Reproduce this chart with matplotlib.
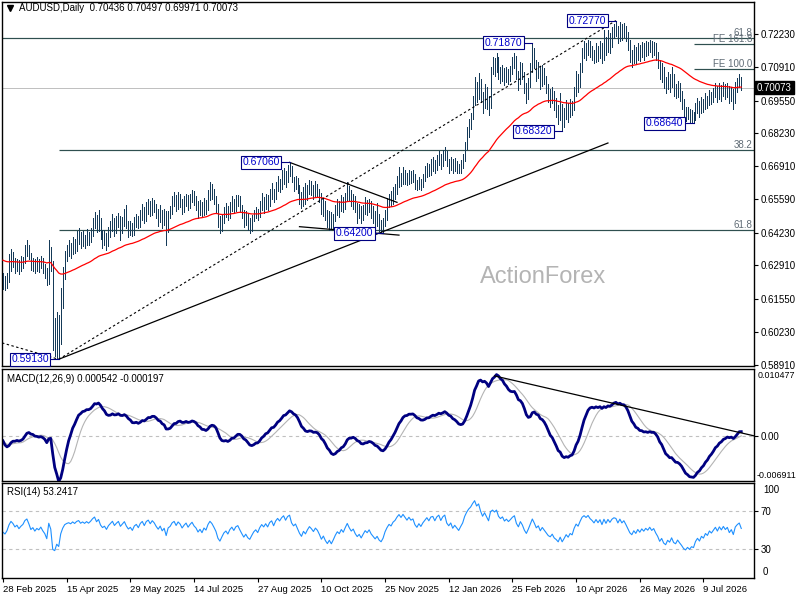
import numpy as np
import matplotlib
matplotlib.use("Agg")
import matplotlib.pyplot as plt

plt.rcParams['font.family'] = ['Liberation Sans', 'DejaVu Sans']

title_text = "AUDUSD,Daily  0.70436 0.70497 0.69971 0.70073"
macd_text = "MACD(12,26,9) 0.000542 -0.000197"
rsi_text = "RSI(14) 53.2417"
watermark = "ActionForex"

# daily bars, prices in pips (x 0.0001)
first_open = 6245
closes = [
    6230, 6215, 6240, 6290, 6325, 6310, 6285, 6300, 6275, 6295,
    6310, 6345, 6360, 6330, 6290, 6305, 6280, 6300, 6290, 6310,
    6285, 6265, 6225, 6350, 6300, 5990, 5960, 6030, 5980, 6150,
    6250, 6320, 6345, 6360, 6345, 6380, 6360, 6395, 6410, 6380,
    6400, 6385, 6410, 6395, 6420, 6455, 6480, 6440, 6470, 6420,
    6395, 6410, 6380, 6420, 6445, 6470, 6435, 6460, 6480, 6440,
    6465, 6490, 6455, 6430, 6445, 6420, 6460, 6475, 6450, 6490,
    6510, 6480, 6520, 6535, 6510, 6540, 6525, 6500, 6480, 6505,
    6470, 6490, 6430, 6495, 6510, 6545, 6560, 6530, 6565, 6550,
    6520, 6545, 6565, 6535, 6560, 6580, 6555, 6540, 6510, 6530,
    6505, 6540, 6525, 6570, 6600, 6585, 6560, 6530, 6470, 6440,
    6470, 6500, 6515, 6490, 6525, 6545, 6520, 6550, 6560, 6530,
    6500, 6470, 6490, 6460, 6445, 6470, 6495, 6510, 6490, 6525,
    6550, 6535, 6560, 6540, 6575, 6590, 6560, 6600, 6625, 6610,
    6640, 6660, 6635, 6670, 6685, 6640, 6620, 6635, 6605, 6570,
    6545, 6580, 6560, 6590, 6615, 6600, 6580, 6605, 6590, 6560,
    6520, 6540, 6500, 6470, 6490, 6455, 6480, 6510, 6535, 6520,
    6550, 6530, 6565, 6600, 6570, 6545, 6560, 6525, 6500, 6515,
    6485, 6510, 6535, 6520, 6540, 6510, 6490, 6470, 6485, 6455,
    6440, 6460, 6500, 6530, 6555, 6545, 6575, 6590, 6620, 6645,
    6630, 6660, 6645, 6630, 6655, 6640, 6650, 6620, 6605, 6630,
    6615, 6640, 6660, 6680, 6665, 6695, 6700, 6680, 6710, 6725,
    6700, 6730, 6745, 6705, 6690, 6710, 6680, 6700, 6685, 6670,
    6695, 6720, 6775, 6820, 6860, 6890, 6950, 7010, 6980, 7020,
    6975, 6940, 6990, 6960, 6930, 7070, 7100, 7085, 7120, 7070,
    7050, 7075, 7040, 7065, 7045, 7070, 7100, 7120, 7060, 7030,
    7090, 7060, 7010, 6975, 7020, 7080, 7150, 7110, 7060, 7085,
    7030, 7070, 7040, 7010, 6975, 6960, 6985, 6940, 6920, 6890,
    6930, 6870, 6900, 6935, 6905, 6940, 6925, 6990, 7040, 7020,
    7080, 7140, 7165, 7150, 7180, 7155, 7140, 7120, 7160, 7135,
    7170, 7130, 7195, 7160, 7210, 7185, 7225, 7245, 7240, 7205,
    7250, 7220, 7245, 7215, 7180, 7140, 7120, 7155, 7130, 7165,
    7140, 7170, 7150, 7175, 7160, 7185, 7160, 7175, 7140, 7110,
    7060, 7080, 7030, 7010, 7040, 7020, 7050, 7000, 6985, 7010,
    6980, 6950, 6910, 6890, 6905, 6880, 6895, 6885, 6920, 6940,
    6915, 6945, 6930, 6960, 6945, 6975, 6960, 6980, 7000, 6975,
    7005, 6985, 7010, 6990, 7005, 6970, 6990, 6955, 7010, 7030,
    7043.6, 7007.3,
]
highs = [
    6262, 6248, 6262, 6335, 6358, 6345, 6322, 6318, 6312, 6330,
    6325, 6375, 6393, 6372, 6340, 6322, 6318, 6325, 6315, 6330,
    6320, 6298, 6280, 6393, 6365, 6310, 6080, 6105, 6090, 6200,
    6285, 6350, 6372, 6395, 6380, 6405, 6398, 6430, 6440, 6425,
    6430, 6415, 6438, 6425, 6442, 6480, 6505, 6495, 6514, 6480,
    6435, 6432, 6420, 6445, 6470, 6498, 6482, 6488, 6502, 6490,
    6485, 6520, 6535, 6468, 6470, 6460, 6485, 6500, 6490, 6515,
    6540, 6525, 6547, 6560, 6550, 6563, 6555, 6540, 6520, 6535,
    6515, 6520, 6510, 6510, 6530, 6570, 6587, 6575, 6585, 6580,
    6560, 6570, 6580, 6575, 6580, 6595, 6590, 6570, 6550, 6555,
    6545, 6563, 6555, 6595, 6627, 6620, 6600, 6570, 6540, 6490,
    6495, 6525, 6543, 6530, 6545, 6570, 6560, 6575, 6575, 6570,
    6534, 6515, 6510, 6500, 6480, 6495, 6515, 6525, 6520, 6550,
    6583, 6565, 6580, 6575, 6600, 6623, 6600, 6625, 6650, 6640,
    6675, 6685, 6670, 6695, 6706, 6690, 6647, 6650, 6645, 6615,
    6585, 6605, 6623, 6615, 6635, 6630, 6615, 6630, 6620, 6600,
    6583, 6560, 6550, 6515, 6510, 6505, 6500, 6534, 6560, 6550,
    6575, 6565, 6583, 6627, 6610, 6595, 6580, 6570, 6543, 6540,
    6530, 6535, 6567, 6555, 6560, 6550, 6530, 6510, 6543, 6500,
    6475, 6480, 6514, 6563, 6580, 6590, 6607, 6620, 6650, 6687,
    6665, 6687, 6675, 6665, 6675, 6670, 6675, 6660, 6635, 6647,
    6640, 6660, 6690, 6705, 6700, 6720, 6727, 6715, 6735, 6750,
    6740, 6755, 6768, 6750, 6720, 6727, 6718, 6722, 6712, 6700,
    6715, 6740, 6790, 6848, 6880, 6905, 6975, 7050, 7030, 7066,
    7040, 6990, 7020, 7010, 6975, 7090, 7130, 7125, 7147, 7130,
    7090, 7098, 7085, 7090, 7080, 7095, 7130, 7147, 7135, 7075,
    7110, 7105, 7070, 7025, 7045, 7105, 7187, 7165, 7118, 7110,
    7095, 7100, 7085, 7055, 7020, 7000, 7010, 6995, 6965, 6935,
    6985, 6940, 6925, 6957, 6945, 6960, 6955, 7010, 7075, 7060,
    7106, 7165, 7195, 7185, 7200, 7195, 7175, 7160, 7187, 7175,
    7195, 7185, 7240, 7210, 7240, 7225, 7250, 7265, 7277, 7255,
    7270, 7262, 7268, 7255, 7230, 7199, 7160, 7180, 7170, 7187,
    7180, 7190, 7185, 7195, 7190, 7200, 7195, 7192, 7185, 7150,
    7120, 7105, 7090, 7050, 7070, 7060, 7090, 7060, 7020, 7035,
    7025, 6995, 6960, 6930, 6929, 6920, 6915, 6910, 6945, 6965,
    6955, 6970, 6960, 6985, 6975, 6998, 6990, 7005, 7026, 7015,
    7025, 7018, 7030, 7020, 7025, 7015, 7010, 7000, 7030, 7045,
    7060, 7049.7,
]
lows = [
    6195, 6190, 6200, 6225, 6270, 6285, 6262, 6270, 6255, 6268,
    6280, 6300, 6330, 6315, 6272, 6268, 6262, 6270, 6265, 6280,
    6262, 6240, 6212, 6218, 6270, 5950, 5925, 5920, 5913, 5975,
    6120, 6235, 6310, 6328, 6320, 6335, 6340, 6350, 6378, 6362,
    6368, 6360, 6375, 6372, 6385, 6408, 6440, 6425, 6430, 6398,
    6360, 6375, 6353, 6370, 6405, 6430, 6410, 6420, 6445, 6395,
    6420, 6450, 6442, 6406, 6415, 6410, 6412, 6445, 6440, 6445,
    6475, 6460, 6470, 6500, 6490, 6495, 6505, 6480, 6450, 6465,
    6442, 6455, 6373, 6425, 6480, 6500, 6530, 6510, 6520, 6525,
    6500, 6505, 6530, 6515, 6522, 6545, 6535, 6515, 6482, 6495,
    6485, 6495, 6500, 6515, 6555, 6560, 6540, 6505, 6445, 6422,
    6430, 6460, 6485, 6475, 6480, 6510, 6502, 6512, 6530, 6505,
    6480, 6445, 6455, 6434, 6420, 6430, 6474, 6480, 6475, 6485,
    6515, 6502, 6520, 6514, 6530, 6560, 6545, 6567, 6590, 6585,
    6600, 6620, 6607, 6625, 6650, 6625, 6590, 6600, 6583, 6540,
    6522, 6530, 6540, 6555, 6580, 6575, 6560, 6570, 6565, 6545,
    6500, 6490, 6474, 6445, 6434, 6440, 6442, 6470, 6495, 6486,
    6510, 6505, 6520, 6555, 6550, 6530, 6520, 6506, 6462, 6480,
    6462, 6475, 6500, 6494, 6505, 6480, 6460, 6446, 6450, 6430,
    6426, 6420, 6450, 6474, 6527, 6530, 6540, 6560, 6580, 6607,
    6610, 6620, 6620, 6615, 6620, 6622, 6625, 6600, 6595, 6598,
    6595, 6605, 6630, 6647, 6650, 6655, 6670, 6665, 6675, 6695,
    6680, 6690, 6715, 6690, 6665, 6675, 6663, 6670, 6665, 6663,
    6665, 6685, 6710, 6760, 6810, 6840, 6880, 6935, 6950, 6960,
    6950, 6905, 6925, 6920, 6897, 6925, 7060, 7055, 7070, 7040,
    7025, 7035, 7018, 7030, 7020, 7035, 7060, 7085, 7040, 6998,
    7020, 7040, 6985, 6945, 6960, 7010, 7070, 7085, 7035, 7045,
    7000, 7015, 7020, 6985, 6950, 6930, 6945, 6917, 6890, 6860,
    6875, 6832, 6850, 6880, 6868, 6890, 6895, 6915, 6975, 6990,
    7010, 7070, 7125, 7120, 7140, 7130, 7118, 7106, 7110, 7115,
    7125, 7106, 7120, 7140, 7150, 7147, 7170, 7205, 7215, 7185,
    7195, 7200, 7210, 7195, 7158, 7110, 7090, 7108, 7106, 7120,
    7115, 7130, 7120, 7135, 7140, 7150, 7130, 7140, 7118, 7085,
    7040, 7030, 7005, 6985, 7000, 6990, 7010, 6975, 6965, 6970,
    6955, 6920, 6890, 6872, 6880, 6868, 6870, 6864, 6878, 6905,
    6890, 6905, 6910, 6920, 6925, 6935, 6940, 6950, 6970, 6950,
    6960, 6955, 6975, 6960, 6970, 6945, 6955, 6921, 6945, 6990,
    7010, 6997.1,
]
assert len(closes) == len(highs) == len(lows), (len(closes), len(highs), len(lows))

price_ticks = [0.72230, 0.70910, 0.69550, 0.68230, 0.66910, 0.65590,
               0.64230, 0.62910, 0.61550, 0.60230, 0.58910]
last_price = 0.70073
date_bars = [0, 32, 64, 96, 128, 160, 192, 224, 256, 288, 320, 352]
date_labels = ["28 Feb 2025", "15 Apr 2025", "29 May 2025", "14 Jul 2025",
               "27 Aug 2025", "10 Oct 2025", "25 Nov 2025", "12 Jan 2026",
               "25 Feb 2026", "10 Apr 2026", "26 May 2026", "9 Jul 2026"]

# swing highs / lows marked on the chart
swing_bars = [28, 144, 191, 266, 281, 308, 347]
swing_prices = [0.5913, 0.6706, 0.6420, 0.7187, 0.6832, 0.7277, 0.6864]
swing_labels = ["0.59130", "0.67060", "0.64200", "0.71870", "0.68320", "0.72770", "0.68640"]

# fibonacci levels
fib_low, fib_high = 0.5913, 0.7277
proj_618 = 0.7206
fe_1000 = 0.7081
fe_1618 = 0.7182

# trendlines: (bar0, price0, bar1, price1)
dotted_lines = [(-0.5, 0.5979, 28, 0.5913), (28, 0.5913, 308, 0.7277)]
solid_lines = [(28, 0.5913, 304, 0.6784), (144, 0.6706, 198, 0.6545), (149, 0.6447, 199, 0.6413)]
macd_trend = (247, 0.0094, 377.4, 0.0001)

prior_level = 0.6315   # level of the EMAs before the first bar
rsi_seed = 0.0015

close = np.array(closes) / 1e4
high = np.array(highs) / 1e4
low = np.array(lows) / 1e4
opn = np.r_[first_open / 1e4, close[:-1]]
high = np.maximum(high, np.maximum(opn, close))
low = np.minimum(low, np.minimum(opn, close))
n = len(close)
idx = np.arange(n)


def ema(values, span, seed):
    a = 2.0 / (span + 1)
    out = np.empty(len(values))
    prev = seed
    for i, v in enumerate(values):
        prev = prev + a * (v - prev)
        out[i] = prev
    return out


def sma(values, period):
    out = np.empty(len(values))
    for i in range(len(values)):
        out[i] = values[max(0, i - period + 1):i + 1].mean()
    return out


def rsi(values, prev, period, seed):
    g = l = seed
    out = np.empty(len(values))
    for i, v in enumerate(values):
        d = v - prev
        g = (g * (period - 1) + max(d, 0)) / period
        l = (l * (period - 1) + max(-d, 0)) / period
        out[i] = 100 - 100 / (1 + g / l)
        prev = v
    return out


ma55 = ema(close, 55, prior_level)
macd = ema(close, 12, prior_level) - ema(close, 26, prior_level)
signal = sma(macd, 9)
rsi14 = rsi(close, opn[0], 14, rsi_seed)

bar_color = '#153a58'
fib_color = '#2f4f4f'
fib_text = '#5f6b75'
px = 0.72
xmin, xmax = -0.5, 377.4

fig = plt.figure(figsize=(8, 6), dpi=100)
ax = fig.add_axes([0.0025, 0.39, 0.94, 0.6067])
ax_m = fig.add_axes([0.0025, 0.19833, 0.94, 0.18667])
ax_r = fig.add_axes([0.0025, 0.03667, 0.94, 0.15833])

for a in (ax, ax_m, ax_r):
    a.set_xlim(xmin, xmax)
    for s in a.spines.values():
        s.set_color('black')
        s.set_linewidth(1.0)
    a.yaxis.tick_right()
    a.tick_params(axis='y', direction='out', length=3, width=0.8, pad=2, labelsize=7)
    a.tick_params(axis='x', bottom=False, labelbottom=False)

# main price panel
ax.set_ylim(0.58859, 0.73519)
ax.set_yticks(price_ticks)
ax.set_yticklabels([f"{p:.5f}" for p in price_ticks])

ax.axhline(last_price, color='#c0c0c0', lw=1 * px, zorder=1)
ax.axhline(proj_618, color=fib_color, lw=1.2 * px, zorder=1)
fib_382 = fib_high - 0.382 * (fib_high - fib_low)
fib_618 = fib_high - 0.618 * (fib_high - fib_low)
ax.hlines([fib_382, fib_618], swing_bars[0], xmax, color=fib_color, lw=1.2 * px, zorder=1)
ax.hlines([fe_1000, fe_1618], swing_bars[-1], xmax, color=fib_color, lw=1.2 * px, zorder=1)
for lvl, txt in [(proj_618, "61.8"), (fe_1618, "FE 161.8"), (fe_1000, "FE 100.0"),
                 (fib_382, "38.2"), (fib_618, "61.8")]:
    ax.text(xmax - 0.8, lvl, txt, ha='right', va='bottom', fontsize=7, color=fib_text, zorder=2)

ax.text(0.7194, 0.2445, watermark, transform=ax.transAxes, fontsize=17,
        color='#b4b4b4', ha='center', va='center', zorder=0)

ax.vlines(idx, low, high, color=bar_color, lw=px, antialiased=False, zorder=3)
ax.plot(idx, ma55, color='#ff0000', lw=0.9, zorder=4)

for b0, p0, b1, p1 in dotted_lines:
    ax.plot([b0, b1], [p0, p1], color='black', lw=0.8, ls=(0, (2.2, 2.2)), zorder=5)
for b0, p0, b1, p1 in solid_lines:
    ax.plot([b0, b1], [p0, p1], color='black', lw=0.9, zorder=5)

for b, p, lbl in zip(swing_bars, swing_prices, swing_labels):
    ax.plot([b - 5, b], [p, p], color='#000080', lw=0.8, zorder=6)
    ax.text(b - 5, p, lbl, ha='right', va='center', fontsize=7.5, color='#0000cd', zorder=7,
            bbox=dict(boxstyle='square,pad=0.15', fc='white', ec='#000080', lw=0.8))

ax.text(1.004, last_price, f"{last_price:.5f}", transform=ax.get_yaxis_transform(),
        ha='left', va='center', fontsize=7, color='white', zorder=8,
        bbox=dict(boxstyle='square,pad=0.2', fc='black', ec='black'))
ax.text(0.0226, 0.9835, title_text, transform=ax.transAxes, ha='left', va='center',
        fontsize=7, color='black')
ax.plot([0.011], [0.983], marker='v', ms=4, color='black', transform=ax.transAxes)

# MACD panel
m_lo, m_hi = -0.006911, 0.010477
ax_m.set_ylim(m_lo, m_hi)
ax_m.set_yticks([0.0])
ax_m.set_yticklabels(["0.00"])
ax_m.axhline(0, color='#c0c0c0', lw=0.8, ls=(0, (3, 3)))
ax_m.plot(idx, signal, color='#b4b4b4', lw=0.8)
ax_m.plot(idx, macd, color='#000080', lw=2.0)
b0, v0, b1, v1 = macd_trend
ax_m.plot([b0, b1], [v0, v1], color='black', lw=0.9)
ax_m.text(1.005, 0.982, f"{m_hi:.6f}", transform=ax_m.transAxes, ha='left', va='top', fontsize=6.4)
ax_m.text(1.003, 0.01, f"{m_lo:.6f}", transform=ax_m.transAxes, ha='left', va='bottom', fontsize=6.4)
ax_m.text(0.0066, 0.91, macd_text, transform=ax_m.transAxes, ha='left', va='center', fontsize=7)

# RSI panel
ax_r.set_ylim(0, 100)
ax_r.set_yticks([70, 30])
ax_r.set_yticklabels(["70", "30"])
ax_r.axhline(70, color='#c0c0c0', lw=0.8, ls=(0, (3, 3)))
ax_r.axhline(30, color='#c0c0c0', lw=0.8, ls=(0, (3, 3)))
ax_r.plot(idx, rsi14, color='#1e90ff', lw=0.8)
ax_r.text(1.012, 0.979, "100", transform=ax_r.transAxes, ha='left', va='top', fontsize=7)
ax_r.text(1.012, 0.01, "0", transform=ax_r.transAxes, ha='left', va='bottom', fontsize=7)
ax_r.text(0.0066, 0.905, rsi_text, transform=ax_r.transAxes, ha='left', va='center', fontsize=7)

ax_r.tick_params(axis='x', bottom=True, labelbottom=True, direction='out', length=3,
                 width=0.8, pad=2, labelsize=6.8)
ax_r.set_xticks(date_bars)
ax_r.set_xticklabels(date_labels, ha='left')

fig.savefig("out.png", dpi=100, facecolor='white')
